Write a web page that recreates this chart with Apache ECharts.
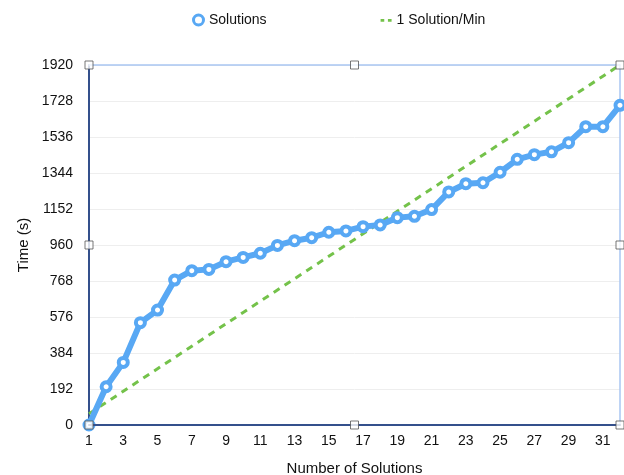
<!DOCTYPE html>
<html>
<head>
<meta charset="utf-8">
<script src="https://cdn.jsdelivr.net/npm/echarts@6/dist/echarts.min.js"></script>
<style>html,body{margin:0;padding:0;background:#fff;}#c{width:624px;height:475px;}</style>
</head>
<body>
<div id="c"></div>
<script>
const categories = ['1','2','3','4','5','6','7','8','9','10','11','12','13','14','15','16','17','18','19','20','21','22','23','24','25','26','27','28','29','30','31','32'];
const solutions = [0,204,334,546,613,773,823,830,871,894,916,958,983,999,1028,1035,1058,1067,1106,1113,1149,1243,1287,1292,1348,1417,1442,1457,1506,1591,1591,1705];
const oneSolutionPerMin = [60,120,180,240,300,360,420,480,540,600,660,720,780,840,900,960,1020,1080,1140,1200,1260,1320,1380,1440,1500,1560,1620,1680,1740,1800,1860,1920];
const yTicks = [0,192,384,576,768,960,1152,1344,1536,1728,1920];
const handles = [[1,1920],[16.5,1920],[32,1920],[1,960],[32,960],[1,0],[16.5,0],[32,0]];

const font = 'Liberation Sans, Arial, Helvetica, sans-serif';
const chart = echarts.init(document.getElementById('c'), null, {renderer:'canvas'});
chart.setOption({
  animation:false,
  textStyle:{fontFamily:font},
  legend:{
    top:8, left:187, itemGap:114, itemWidth:11, itemHeight:10,
    textStyle:{fontSize:14, color:'#111', fontFamily:font},
    data:[
      {name:'Solutions', icon:'circle', itemStyle:{color:'#fff', borderColor:'#58a8f4', borderWidth:3}},
      {name:'1 Solution/Min', icon:'path://M0,0h0.01v0.01h-0.01z M0,4h4v3h-4z M8,4h4v3h-4z M12,10h0.01v0.01h-0.01z', itemStyle:{color:'#74c24a', borderWidth:0}}
    ]
  },
  grid:{left:89, right:4, top:65, bottom:50, containLabel:false, outerBoundsMode:'none'},
  xAxis:[{
    type:'category', data:categories, boundaryGap:false,
    name:'Number of Solutions', nameLocation:'middle', nameGap:36,
    nameTextStyle:{fontSize:15, color:'#111'},
    axisLine:{onZero:false, lineStyle:{color:'#34508c', width:2}},
    axisTick:{show:false},
    axisLabel:{interval:1, fontSize:14, color:'#111', margin:9},
    splitLine:{show:false}, z:4
  },{
    type:'value', min:1, max:32, position:'top', show:true,
    axisLine:{show:true, onZero:false, lineStyle:{color:'#a9c6f2', width:1.5}},
    axisTick:{show:false}, axisLabel:{show:false}, splitLine:{show:false}
  }],
  yAxis:[{
    type:'value', min:0, max:1920, interval:192,
    name:'Time (s)', nameLocation:'middle', nameGap:56,
    nameTextStyle:{fontSize:15, color:'#111'},
    axisLine:{show:true, onZero:false, lineStyle:{color:'#34508c', width:2}},
    axisTick:{show:false},
    axisLabel:{fontSize:14, color:'#111', margin:16, formatter:function(v){return String(v);}},
    splitLine:{show:true, lineStyle:{color:'#eeeeee', width:1}}
  },{
    type:'value', min:0, max:1920, interval:192, position:'right',
    axisLine:{show:true, onZero:false, lineStyle:{color:'#a9c6f2', width:1.5}},
    axisTick:{show:false}, axisLabel:{show:false}, splitLine:{show:false}
  }],
  series:[{
    name:'1 Solution/Min', type:'line', data:oneSolutionPerMin, symbol:'none',
    lineStyle:{color:'#74c24a', width:3, type:[7,6]},
    itemStyle:{color:'#74c24a'}, z:2
  },{
    name:'Solutions', type:'line', data:solutions,
    symbol:'circle', symbolSize:9,
    lineStyle:{color:'#58a8f4', width:6},
    itemStyle:{color:'#fff', borderColor:'#58a8f4', borderWidth:4},
    z:3
  },{
    name:'handles', type:'scatter', xAxisIndex:1, yAxisIndex:0, data:handles,
    symbol:'rect', symbolSize:8, silent:true,
    itemStyle:{color:'#fff', borderColor:'#555', borderWidth:1}, z:5
  }]
});
</script>
</body>
</html>
